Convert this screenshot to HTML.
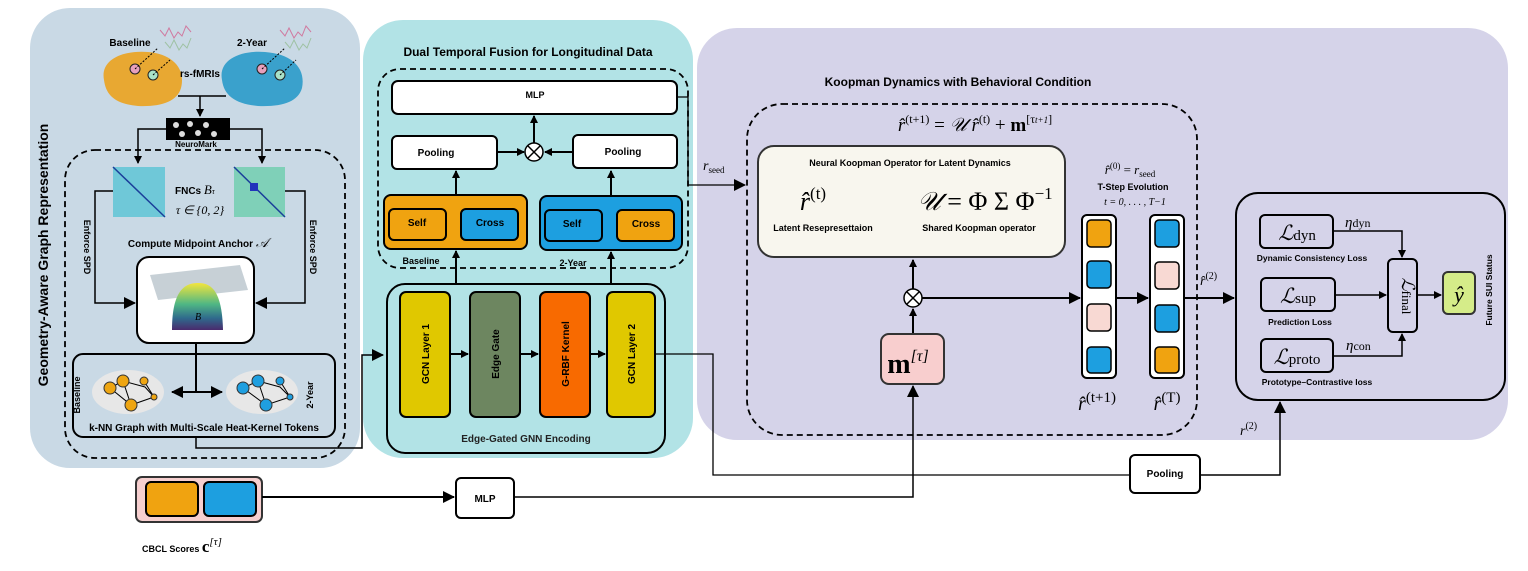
<!DOCTYPE html>
<html><head><meta charset="utf-8"><style>
body{margin:0;background:#fff}
svg{display:block}
.t{font-family:"Liberation Sans",sans-serif}
.b{font-family:"Liberation Sans",sans-serif;font-weight:bold}
.m{font-family:"Liberation Serif",serif;font-style:italic}
.s{font-family:"Liberation Serif",serif}
</style></head><body>
<svg width="1528" height="571" viewBox="0 0 1528 571" xmlns="http://www.w3.org/2000/svg">
<defs>
<marker id="a" markerWidth="8" markerHeight="8" refX="7" refY="4" orient="auto" markerUnits="userSpaceOnUse"><path d="M0,0L8,4L0,8z" fill="#000"/></marker>
<marker id="a2" markerWidth="12" markerHeight="12" refX="11" refY="6" orient="auto" markerUnits="userSpaceOnUse"><path d="M0,0L12,6L0,12z" fill="#000"/></marker>
<linearGradient id="dome" x1="0" y1="0" x2="0" y2="1"><stop offset="0" stop-color="#f3e53c"/><stop offset=".45" stop-color="#4fb784"/><stop offset=".75" stop-color="#2f6a8c"/><stop offset="1" stop-color="#4a2a6d"/></linearGradient>
</defs>
<rect x="30" y="8" width="330" height="460" rx="40" fill="#c9d9e5"/>
<rect x="363" y="20" width="330" height="438" rx="40" fill="#b2e3e6"/>
<rect x="697" y="28" width="811" height="412" rx="40" fill="#d5d3e9"/>

<!-- LEFT PANEL -->
<text class="b" x="48" y="255" font-size="14" transform="rotate(-90 48 255)" text-anchor="middle">Geometry-Aware Graph Representation</text>
<text class="b" x="130" y="46" font-size="10" text-anchor="middle">Baseline</text>
<text class="b" x="252" y="46" font-size="10" text-anchor="middle">2-Year</text>
<path d="M160,30 l5,6 l4,-8 l5,10 l4,-6 l4,4 l4,-10 l5,6" stroke="#d07aa0" fill="none"/>
<path d="M165,42 l5,6 l4,-8 l5,10 l4,-6 l4,4 l4,-10" stroke="#9fc2a4" fill="none"/>
<path d="M280,30 l5,6 l4,-8 l5,10 l4,-6 l4,4 l4,-10 l5,6" stroke="#d07aa0" fill="none"/>
<path d="M285,42 l5,6 l4,-8 l5,10 l4,-6 l4,4 l4,-10" stroke="#9fc2a4" fill="none"/>
<path d="M104,80 C100,60 122,50 148,52 C172,54 186,68 181,88 C177,102 160,107 138,106 C116,104 106,96 104,80z" fill="#e8a832"/>
<path d="M222,80 C218,60 240,50 265,52 C292,54 306,68 302,88 C298,102 282,107 258,106 C236,104 224,96 222,80z" fill="#3aa1cc"/>
<circle cx="135" cy="69" r="5" fill="#e7a0bd" stroke="#222"/><circle cx="153" cy="75" r="5" fill="#a9e2c8" stroke="#222"/>
<circle cx="262" cy="69" r="5" fill="#e7a0bd" stroke="#222"/><circle cx="280" cy="75" r="5" fill="#a9e2c8" stroke="#222"/>
<path d="M135,69 L158,48 M153,75 L170,60 M262,69 L285,48 M280,75 L296,60" stroke="#000" stroke-dasharray="2,1.5"/>
<text class="b" x="200" y="77" font-size="10" text-anchor="middle">rs-fMRIs</text>
<path d="M178,96 H226" stroke="#000" stroke-width="1.5" fill="none"/>
<path d="M200,96 V116" stroke="#000" stroke-width="1.5" fill="none" marker-end="url(#a)"/>
<rect x="166" y="118" width="64" height="22" fill="#000"/>
<g fill="#ddd"><circle cx="176" cy="125" r="3"/><circle cx="190" cy="124" r="3"/><circle cx="206" cy="125" r="3"/><circle cx="182" cy="134" r="3"/><circle cx="198" cy="133" r="3"/><circle cx="214" cy="134" r="3"/></g>
<text class="b" x="196" y="147" font-size="8" text-anchor="middle">NeuroMark</text>
<path d="M166,129 H138 V163" stroke="#000" stroke-width="1.5" fill="none" marker-end="url(#a)"/>
<path d="M230,129 H262 V163" stroke="#000" stroke-width="1.5" fill="none" marker-end="url(#a)"/>
<rect x="65" y="150" width="280" height="308" rx="30" fill="none" stroke="#000" stroke-width="1.8" stroke-dasharray="6,4"/>
<rect x="113" y="167" width="52" height="50" fill="#6fc8d8"/>
<rect x="234" y="167" width="51" height="50" fill="#7fd0b8"/>
<path d="M113,167 L165,217 M234,167 L285,217" stroke="#1b3f9a" stroke-width="1.5"/>
<rect x="250" y="183" width="8" height="8" fill="#2233bb"/>
<text class="b" x="175" y="194" font-size="10">FNCs <tspan class="m" font-size="13" font-weight="normal">B</tspan><tspan class="m" font-size="8" font-weight="normal">τ</tspan></text>
<text class="m" x="200" y="214" font-size="12" text-anchor="middle">τ ∈ {0, 2}</text>
<path d="M113,191 H95 V303 H135" stroke="#000" stroke-width="1.5" fill="none" marker-end="url(#a2)"/>
<path d="M285,191 H305 V303 H256" stroke="#000" stroke-width="1.5" fill="none" marker-end="url(#a2)"/>
<text class="b" x="84" y="247" font-size="9" transform="rotate(90 84 247)" text-anchor="middle">Enforce SPD</text>
<text class="b" x="310" y="247" font-size="9" transform="rotate(90 310 247)" text-anchor="middle">Enforce SPD</text>
<text class="b" x="198" y="247" font-size="10" text-anchor="middle">Compute Midpoint Anchor <tspan class="m" font-size="13" font-weight="normal">𝒜</tspan></text>
<rect x="137" y="257" width="117" height="86" rx="12" fill="#fff" stroke="#000" stroke-width="2"/>
<polygon points="150,275 240,265 248,290 158,300" fill="#b9c4cc" opacity=".8"/>
<path d="M172,330 C172,290 185,283 198,283 C211,283 222,290 223,330 Z" fill="url(#dome)"/>
<text class="m" x="198" y="320" font-size="10" text-anchor="middle">B</text>
<path d="M196,343 V392" stroke="#000" stroke-width="2"/>
<rect x="73" y="354" width="262" height="83" rx="10" fill="none" stroke="#000" stroke-width="2"/>
<ellipse cx="128" cy="392" rx="36" ry="22" fill="#e7e7e7"/>
<ellipse cx="262" cy="392" rx="36" ry="22" fill="#e7e7e7"/>
<g stroke="#000" stroke-width="1" fill="none"><path d="M110,388 L123,381 L145,387 L154,397 L131,405 L110,388 M123,381 L131,405 M144,381 L154,397"/><path d="M243,388 L258,381 L280,387 L290,397 L266,405 L243,388 M258,381 L266,405 M280,381 L290,397"/></g>
<g fill="#eea512" stroke="#333"><circle cx="110" cy="388" r="6"/><circle cx="123" cy="381" r="6"/><circle cx="144" cy="381" r="4"/><circle cx="154" cy="397" r="3"/><circle cx="131" cy="405" r="6"/></g>
<g fill="#1f9fe0" stroke="#333"><circle cx="243" cy="388" r="6"/><circle cx="258" cy="381" r="6"/><circle cx="280" cy="381" r="4"/><circle cx="290" cy="397" r="3"/><circle cx="266" cy="405" r="6"/></g>
<path d="M196,392 H172" stroke="#000" stroke-width="2" marker-end="url(#a2)"/>
<path d="M196,392 H222" stroke="#000" stroke-width="2" marker-end="url(#a2)"/>
<text class="b" x="80" y="395" font-size="9" transform="rotate(-90 80 395)" text-anchor="middle">Baseline</text>
<text class="b" x="313" y="395" font-size="9" transform="rotate(-90 313 395)" text-anchor="middle">2-Year</text>
<text class="b" x="204" y="431" font-size="10" text-anchor="middle">k-NN Graph with Multi-Scale Heat-Kernel Tokens</text>
<path d="M196,437 V448 H362 V355 H383" stroke="#000" stroke-width="1.5" fill="none" marker-end="url(#a2)"/>

<!-- MIDDLE PANEL -->
<text class="b" x="528" y="56" font-size="12" text-anchor="middle">Dual Temporal Fusion for Longitudinal Data</text>
<rect x="378" y="69" width="310" height="199" rx="22" fill="none" stroke="#000" stroke-width="1.8" stroke-dasharray="6,4"/>
<rect x="392" y="81" width="285" height="33" rx="6" fill="#fff" stroke="#000" stroke-width="2"/>
<text class="b" x="535" y="98" font-size="9" text-anchor="middle">MLP</text>
<rect x="392" y="136" width="105" height="33" rx="5" fill="#fff" stroke="#000" stroke-width="2"/>
<text class="b" x="436" y="156" font-size="10" text-anchor="middle">Pooling</text>
<rect x="573" y="135" width="104" height="33" rx="5" fill="#fff" stroke="#000" stroke-width="2"/>
<text class="b" x="623" y="155" font-size="10" text-anchor="middle">Pooling</text>
<path d="M497,152 H524" stroke="#000" stroke-width="2" marker-end="url(#a)"/>
<path d="M573,152 H545" stroke="#000" stroke-width="2" marker-end="url(#a)"/>
<path d="M534,143 V116" stroke="#000" stroke-width="2" marker-end="url(#a)"/>
<circle cx="534" cy="152" r="9" fill="#fff" stroke="#000" stroke-width="1.5"/><path d="M528,146 L540,158 M540,146 L528,158" stroke="#000" stroke-width="1.5"/>
<rect x="384" y="195" width="143" height="54" rx="7" fill="#f0a310" stroke="#000" stroke-width="2"/>
<rect x="389" y="209" width="57" height="31" rx="5" fill="#f0a310" stroke="#000" stroke-width="2"/>
<rect x="461" y="209" width="57" height="31" rx="5" fill="#1d9fe0" stroke="#000" stroke-width="2"/>
<text class="b" x="417" y="226" font-size="10" text-anchor="middle">Self</text>
<text class="b" x="490" y="226" font-size="10" text-anchor="middle">Cross</text>
<rect x="540" y="196" width="142" height="54" rx="7" fill="#1d9fe0" stroke="#000" stroke-width="2"/>
<rect x="545" y="210" width="57" height="31" rx="5" fill="#1d9fe0" stroke="#000" stroke-width="2"/>
<rect x="617" y="210" width="57" height="31" rx="5" fill="#f0a310" stroke="#000" stroke-width="2"/>
<text class="b" x="572" y="227" font-size="10" text-anchor="middle">Self</text>
<text class="b" x="646" y="227" font-size="10" text-anchor="middle">Cross</text>
<text class="b" x="421" y="264" font-size="9" text-anchor="middle">Baseline</text>
<text class="b" x="573" y="266" font-size="9" text-anchor="middle">2-Year</text>
<path d="M456,195 V171" stroke="#000" stroke-width="2" marker-end="url(#a)"/>
<path d="M611,196 V171" stroke="#000" stroke-width="2" marker-end="url(#a)"/>
<path d="M456,283 V251" stroke="#000" stroke-width="2" marker-end="url(#a)"/>
<path d="M611,283 V252" stroke="#000" stroke-width="2" marker-end="url(#a)"/>
<rect x="387" y="284" width="278" height="169" rx="18" fill="none" stroke="#000" stroke-width="2"/>
<rect x="400" y="292" width="50" height="125" rx="6" fill="#e0c800" stroke="#000" stroke-width="2"/>
<rect x="470" y="292" width="50" height="125" rx="6" fill="#6d8660" stroke="#000" stroke-width="2"/>
<rect x="540" y="292" width="50" height="125" rx="6" fill="#f86a00" stroke="#000" stroke-width="2"/>
<rect x="607" y="292" width="48" height="125" rx="6" fill="#e0c800" stroke="#000" stroke-width="2"/>
<g class="b" font-size="10" text-anchor="middle">
<text class="b" x="429" y="354" transform="rotate(-90 429 354)">GCN Layer 1</text>
<text class="b" x="499" y="354" transform="rotate(-90 499 354)">Edge Gate</text>
<text class="b" x="569" y="354" transform="rotate(-90 569 354)">G-RBF Kernel</text>
<text class="b" x="635" y="354" transform="rotate(-90 635 354)">GCN Layer 2</text></g>
<path d="M450,354 H468" stroke="#000" stroke-width="2" marker-end="url(#a)"/>
<path d="M520,354 H538" stroke="#000" stroke-width="2" marker-end="url(#a)"/>
<path d="M590,354 H605" stroke="#000" stroke-width="2" marker-end="url(#a)"/>
<text class="b" x="526" y="442" font-size="10" text-anchor="middle" fill="#222">Edge-Gated GNN Encoding</text>
<path d="M655,354 H713 V475 H1130" stroke="#000" stroke-width="1.3" fill="none"/>
<path d="M677,97 H688 V185 H745" stroke="#000" stroke-width="1.3" fill="none" marker-end="url(#a2)"/>
<text class="m" x="703" y="170" font-size="14">r<tspan class="s" font-style="normal" font-size="9" dy="3">seed</tspan></text>

<!-- RIGHT PANEL -->
<text class="b" x="958" y="86" font-size="12" text-anchor="middle">Koopman Dynamics with Behavioral Condition</text>
<rect x="747" y="104" width="450" height="331" rx="35" fill="none" stroke="#000" stroke-width="1.8" stroke-dasharray="6,4"/>
<text class="m" x="975" y="131" font-size="19" text-anchor="middle">r̂<tspan font-size="12" dy="-8" font-style="normal">(t+1)</tspan><tspan dy="8" font-style="normal">  =  </tspan>𝒰 r̂<tspan font-size="12" dy="-8" font-style="normal">(t)</tspan><tspan dy="8" font-style="normal">  +  </tspan><tspan font-weight="bold" font-style="normal">m</tspan><tspan font-size="12" dy="-8" font-style="normal">[τ</tspan><tspan font-size="9">t+1</tspan><tspan font-size="12" font-style="normal">]</tspan></text>
<rect x="758" y="146" width="307" height="111" rx="16" fill="#f8f6ee" stroke="#333" stroke-width="2"/>
<text class="b" x="910" y="166" font-size="9" text-anchor="middle">Neural Koopman Operator for Latent Dynamics</text>
<text class="m" x="813" y="210" font-size="26" text-anchor="middle">r̂<tspan font-size="17" dy="-11" font-style="normal">(t)</tspan></text>
<text class="m" x="985" y="210" font-size="26" text-anchor="middle">𝒰<tspan font-style="normal"> = Φ Σ Φ</tspan><tspan font-size="17" dy="-11" font-style="normal">−1</tspan></text>
<text class="b" x="823" y="231" font-size="9" text-anchor="middle">Latent Resepresettaion</text>
<text class="b" x="979" y="231" font-size="9" text-anchor="middle">Shared Koopman operator</text>
<path d="M913,289 V260" stroke="#000" stroke-width="2" marker-end="url(#a)"/>
<path d="M913,333 V309" stroke="#000" stroke-width="2" marker-end="url(#a)"/>
<path d="M922,298 H1080" stroke="#000" stroke-width="2" marker-end="url(#a2)"/>
<path d="M1116,298 H1148" stroke="#000" stroke-width="2" marker-end="url(#a2)"/>
<path d="M1184,298 H1234" stroke="#000" stroke-width="2" marker-end="url(#a2)"/>
<circle cx="913" cy="298" r="9" fill="#fff" stroke="#000" stroke-width="1.5"/><path d="M907,292 L919,304 M919,292 L907,304" stroke="#000" stroke-width="1.5"/>
<rect x="881" y="334" width="63" height="50" rx="8" fill="#f8cece" stroke="#333" stroke-width="2"/>
<text class="s" x="908" y="373" font-size="28" font-weight="bold" text-anchor="middle">m<tspan font-size="16" font-weight="normal" dy="-12" font-style="italic">[τ]</tspan></text>
<text class="m" x="1130" y="174" font-size="13" text-anchor="middle">r̂<tspan font-size="9" dy="-5" font-style="normal">(0)</tspan><tspan dy="5" font-style="normal"> = </tspan>r<tspan font-size="9" dy="3" font-style="normal">seed</tspan></text>
<text class="b" x="1133" y="190" font-size="9" text-anchor="middle">T-Step Evolution</text>
<text class="m" x="1135" y="205" font-size="10" text-anchor="middle">t = 0, . . . , T−1</text>
<rect x="1082" y="215" width="34" height="163" rx="5" fill="#fff" stroke="#000" stroke-width="2"/>
<rect x="1150" y="215" width="34" height="163" rx="5" fill="#fff" stroke="#000" stroke-width="2"/>
<g stroke="#000" stroke-width="1.5">
<rect x="1087" y="220" width="24" height="27" rx="4" fill="#f0a310"/><rect x="1087" y="261" width="24" height="27" rx="4" fill="#1d9fe0"/><rect x="1087" y="304" width="24" height="27" rx="4" fill="#f8d9d3"/><rect x="1087" y="347" width="24" height="26" rx="4" fill="#1d9fe0"/>
<rect x="1155" y="220" width="24" height="27" rx="4" fill="#1d9fe0"/><rect x="1155" y="262" width="24" height="27" rx="4" fill="#f8d9d3"/><rect x="1155" y="305" width="24" height="27" rx="4" fill="#1d9fe0"/><rect x="1155" y="347" width="24" height="26" rx="4" fill="#f0a310"/></g>
<text class="m" x="1097" y="410" font-size="20" text-anchor="middle">r̂<tspan font-size="15" dy="-8" font-style="normal">(t+1)</tspan></text>
<text class="m" x="1167" y="410" font-size="20" text-anchor="middle">r̂<tspan font-size="15" dy="-8" font-style="normal">(T)</tspan></text>
<text class="m" x="1200" y="285" font-size="14">r̂<tspan font-size="10" dy="-6" font-style="normal">(2)</tspan></text>
<!-- loss box -->
<rect x="1236" y="193" width="269" height="207" rx="22" fill="none" stroke="#000" stroke-width="2"/>
<rect x="1260" y="215" width="73" height="33" rx="5" fill="none" stroke="#000" stroke-width="2"/>
<rect x="1261" y="278" width="74" height="33" rx="5" fill="none" stroke="#000" stroke-width="2"/>
<rect x="1261" y="339" width="72" height="33" rx="5" fill="none" stroke="#000" stroke-width="2"/>
<rect x="1388" y="259" width="29" height="73" rx="5" fill="none" stroke="#000" stroke-width="2"/>
<text class="s" x="1297" y="240" font-size="21" text-anchor="middle"><tspan font-style="italic">ℒ</tspan><tspan font-size="15">dyn</tspan></text>
<text class="s" x="1298" y="303" font-size="21" text-anchor="middle"><tspan font-style="italic">ℒ</tspan><tspan font-size="15">sup</tspan></text>
<text class="s" x="1297" y="364" font-size="21" text-anchor="middle"><tspan font-style="italic">ℒ</tspan><tspan font-size="15">proto</tspan></text>
<text class="s" x="1402" y="296" font-size="18" text-anchor="middle" transform="rotate(90 1402 296)"><tspan font-style="italic">ℒ</tspan><tspan font-size="13">final</tspan></text>
<text class="m" x="1345" y="227" font-size="15">η<tspan font-style="normal" font-size="12">dyn</tspan></text>
<text class="m" x="1346" y="350" font-size="15">η<tspan font-style="normal" font-size="12">con</tspan></text>
<text class="b" x="1312" y="261" font-size="8.5" text-anchor="middle">Dynamic Consistency Loss</text>
<text class="b" x="1300" y="325" font-size="8.5" text-anchor="middle">Prediction Loss</text>
<text class="b" x="1317" y="385" font-size="8.5" text-anchor="middle">Prototype–Contrastive loss</text>
<path d="M1333,231 H1402 V257" stroke="#000" stroke-width="1.5" fill="none" marker-end="url(#a)"/>
<path d="M1335,295 H1386" stroke="#000" stroke-width="1.5" fill="none" marker-end="url(#a)"/>
<path d="M1333,356 H1402 V334" stroke="#000" stroke-width="1.5" fill="none" marker-end="url(#a)"/>
<path d="M1417,295 H1441" stroke="#000" stroke-width="1.5" fill="none" marker-end="url(#a)"/>
<rect x="1443" y="272" width="32" height="42" rx="5" fill="#d5ec89" stroke="#333" stroke-width="2"/>
<text class="m" x="1459" y="302" font-size="22" text-anchor="middle">ŷ</text>
<text class="b" x="1492" y="290" font-size="8.5" transform="rotate(-90 1492 290)" text-anchor="middle">Future SUI Status</text>
<text class="m" x="1240" y="435" font-size="14">r<tspan font-size="10" dy="-6" font-style="normal">(2)</tspan></text>

<!-- bottom -->
<rect x="136" y="477" width="126" height="45" rx="6" fill="#f6cfcf" stroke="#333" stroke-width="2"/>
<rect x="146" y="482" width="52" height="34" rx="5" fill="#f0a310" stroke="#000" stroke-width="2"/>
<rect x="204" y="482" width="52" height="34" rx="5" fill="#1d9fe0" stroke="#000" stroke-width="2"/>
<text class="b" x="142" y="552" font-size="9">CBCL Scores <tspan class="s" font-size="17">c</tspan><tspan class="m" font-weight="normal" font-size="11" dy="-7">[τ]</tspan></text>
<path d="M262,497 H454" stroke="#000" stroke-width="2" marker-end="url(#a2)"/>
<rect x="456" y="478" width="58" height="40" rx="5" fill="#fff" stroke="#000" stroke-width="2"/>
<text class="b" x="485" y="502" font-size="10" text-anchor="middle">MLP</text>
<path d="M514,497 H913 V386" stroke="#000" stroke-width="1.5" fill="none" marker-end="url(#a2)"/>
<rect x="1130" y="455" width="70" height="38" rx="5" fill="#fff" stroke="#000" stroke-width="2"/>
<text class="b" x="1165" y="477" font-size="10" text-anchor="middle">Pooling</text>
<path d="M1200,475 H1280 V402" stroke="#000" stroke-width="1.5" fill="none" marker-end="url(#a2)"/>
</svg>
</body></html>
